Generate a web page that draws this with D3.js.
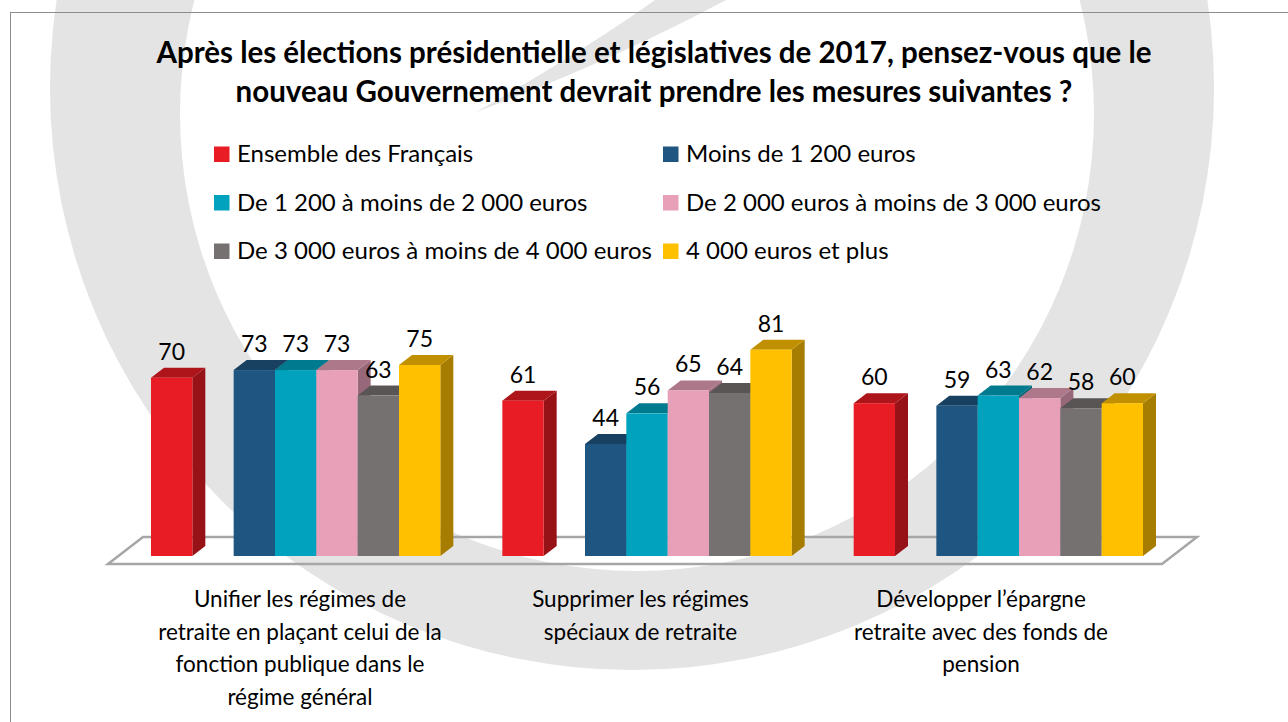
<!DOCTYPE html>
<html>
<head>
<meta charset="utf-8">
<script src="https://cdn.jsdelivr.net/npm/d3@7"></script>
<style>
  body { margin: 0; background: #fff; }
  svg { display: block; }
  text { font-family: Lato, "Open Sans", sans-serif; fill: #000; }
</style>
</head>
<body>
<svg id="chart" width="1288" height="722"></svg>
<script>
// data
const titleLines = [
  "Après les élections présidentielle et législatives de 2017, pensez-vous que le",
  "nouveau Gouvernement devrait prendre les mesures suivantes ?"
];
const categories = [
  "Unifier les régimes de|retraite en plaçant celui de la|fonction publique dans le|régime général",
  "Supprimer les régimes|spéciaux de retraite",
  "Développer l’épargne|retraite avec des fonds de|pension"
];
const seriesNames = [
  "Ensemble des Français",
  "Moins de 1 200 euros",
  "De 1 200 à moins de 2 000 euros",
  "De 2 000 euros à moins de 3 000 euros",
  "De 3 000 euros à moins de 4 000 euros",
  "4 000 euros et plus"
];
const ensemble = [70, 61, 60];
const moins1200 = [73, 44, 59];
const de1200a2000 = [73, 56, 63];
const de2000a3000 = [73, 65, 62];
const de3000a4000 = [63, 64, 58];
const plus4000 = [75, 81, 60];
const seriesValues = [ensemble, moins1200, de1200a2000, de2000a3000, de3000a4000, plus4000];
const colors = ["#e81c24", "#1f5581", "#00a2bd", "#e8a0b9", "#767171", "#ffc000"];
// the chart leaves one empty slot between the total and the income bars
const slots = [0, 2, 3, 4, 5, 6];

const svg = d3.select("#chart");

// watermark ring behind everything
svg.append("path")
  .attr("fill", "#e4e4e4")
  .attr("fill-rule", "evenodd")
  .attr("d", () => {
    const p = d3.path();
    p.arc(632, 88, 582, 0, 2 * Math.PI);
    p.moveTo(637 + 457, 114);
    p.arc(637, 114, 457, 0, 2 * Math.PI);
    return p.toString();
  });
svg.append("path")
  .attr("fill", "#e4e4e4")
  .attr("d", "M655,0 L726,0 Q610,62 476,112 Q585,50 655,0 Z");

// frame
svg.append("rect")
  .attr("x", 10.5).attr("y", 12.5)
  .attr("width", 1300).attr("height", 720)
  .attr("fill", "none")
  .attr("stroke", "#8c8c8c");

// title
svg.append("g").selectAll("text")
  .data(titleLines)
  .join("text")
  .attr("x", 654)
  .attr("y", (d, i) => 63 + i * 38.5)
  .attr("text-anchor", "middle")
  .style("font-weight", "bold")
  .style("font-size", "29.5px")
  .text(d => d);

// legend, two columns
const legend = svg.append("g").selectAll("g")
  .data(seriesNames)
  .join("g")
  .attr("transform", (d, i) => `translate(${i % 2 ? 663 : 214},${162 + Math.floor(i / 2) * 48.5})`);
legend.append("rect")
  .attr("y", -15.5).attr("width", 15.5).attr("height", 15.5)
  .attr("fill", (d, i) => colors[i]);
legend.append("text")
  .attr("x", 23)
  .style("font-size", "24px")
  .text(d => d);

// scales
const x0 = d3.scaleBand()
  .domain(categories)
  .range([120, 1174])
  .paddingInner(0.1765)
  .paddingOuter(0.0882);
const x1 = d3.scaleBand()
  .domain(d3.range(7))
  .range([0, x0.bandwidth()]);
const y = d3.scaleLinear().domain([0, 100]).range([556, 301.3]);

const dx = 13, dy = 10;
const base = y(0);

// floor
const [r0, r1] = x0.range();
svg.append("path")
  .attr("d", d3.line()([
    [r0 - 12, base + 8], [r1 - 12, base + 8],
    [r1 + 23, base - 19], [r0 + 23, base - 19]
  ]) + "Z")
  .attr("fill", "none")
  .attr("stroke", "#a6a6a6")
  .attr("stroke-width", 2.5);

// bars, drawn left to right so the next front face hides the side
const bars = [];
categories.forEach((c, ci) => {
  seriesValues.forEach((vals, si) => {
    bars.push({ cat: c, v: vals[ci], color: colors[si], x: x0(c) + x1(slots[si]) });
  });
});
const w = x1.bandwidth();
const barG = svg.append("g").selectAll("g")
  .data(bars)
  .join("g");
barG.append("path")
  .attr("fill", d => d3.color(d.color).darker(1.2))
  .attr("d", d => d3.line()([
    [d.x + w, y(d.v)], [d.x + w + dx, y(d.v) - dy],
    [d.x + w + dx, base - dy], [d.x + w, base]
  ]) + "Z");
barG.append("path")
  .attr("fill", d => d3.color(d.color).darker(0.8))
  .attr("d", d => d3.line()([
    [d.x, y(d.v)], [d.x + dx, y(d.v) - dy],
    [d.x + w + dx, y(d.v) - dy], [d.x + w, y(d.v)]
  ]) + "Z");
barG.append("rect")
  .attr("x", d => d.x)
  .attr("y", d => y(d.v))
  .attr("width", w)
  .attr("height", d => base - y(d.v))
  .attr("fill", d => d.color);

// value labels
svg.append("g").selectAll("text")
  .data(bars)
  .join("text")
  .attr("x", d => d.x + w / 2)
  .attr("y", d => y(d.v) - dy - 8)
  .attr("text-anchor", "middle")
  .style("font-size", "23px")
  .text(d => d.v);

// category labels
const xl = d3.scalePoint().domain(categories).range([300, 981]);
svg.append("g").selectAll("text")
  .data(categories)
  .join("text")
  .attr("text-anchor", "middle")
  .style("font-size", "22.5px")
  .selectAll("tspan")
  .data(d => d.split("|").map(t => ({ t, c: d })))
  .join("tspan")
  .attr("x", d => xl(d.c))
  .attr("y", (d, i) => 607 + i * 32.5)
  .text(d => d.t);
</script>
</body>
</html>
